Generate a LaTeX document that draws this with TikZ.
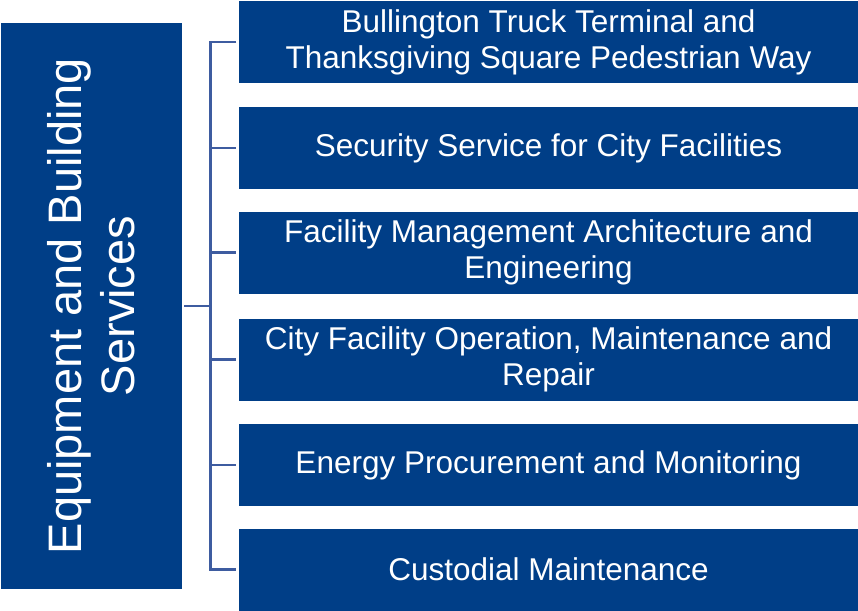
\documentclass[tikz,border=0pt]{standalone}
\usepackage{fontspec}
\setmainfont{Liberation Sans}
\definecolor{boxblue}{RGB}{0,62,135}
\definecolor{lineblue}{RGB}{62,92,160}

\begin{document}
\begin{tikzpicture}[x=1pt,y=-1pt]
\tikzstyle{every node}+=[inner sep=0pt]
\tikzstyle{item}=[fill=boxblue, text=white, minimum width=619pt, minimum height=82pt, align=center, font=\fontsize{31.5}{36}\selectfont]
\tikzstyle{conn}=[draw=lineblue, line width=2.7pt]
\useasboundingbox (0,0) rectangle (858,610);

% group box on the left
\node[fill=boxblue, minimum width=181pt, minimum height=566pt] (group) at (91.5,306) {};
\node[rotate=90, text=white, align=center, font=\fontsize{47}{53}\selectfont] (grouplabel) at (group.center) {Equipment and Building\\Services};

% the six services
\node[item] (b1) at (548.5,42) {Bullington Truck Terminal and\\Thanksgiving Square Pedestrian Way};
\node[item] (b2) at (548.5,148) {Security Service for City Facilities};
\node[item] (b3) at (548.5,252.5) {Facility Management Architecture and\\Engineering};
\node[item] (b4) at (548.5,359.5) {City Facility Operation, Maintenance and\\Repair};
\node[item] (b5) at (548.5,465) {Energy Procurement and Monitoring};
\node[item] (b6) at (548.5,569.5) {Custodial Maintenance};

% bracket
\coordinate (bus) at (210.5,306);
\draw[conn, shorten <=2pt] (group.east) -- (bus);
\draw[conn, shorten <=2.5pt, shorten >=2.5pt] (b1.west) -- (b1.west -| bus) -- (b6.west -| bus) -- (b6.west);
\foreach \i in {2,...,5}
  \draw[conn, shorten >=2.5pt] (bus |- b\i.west) -- (b\i.west);
\end{tikzpicture}
\end{document}
